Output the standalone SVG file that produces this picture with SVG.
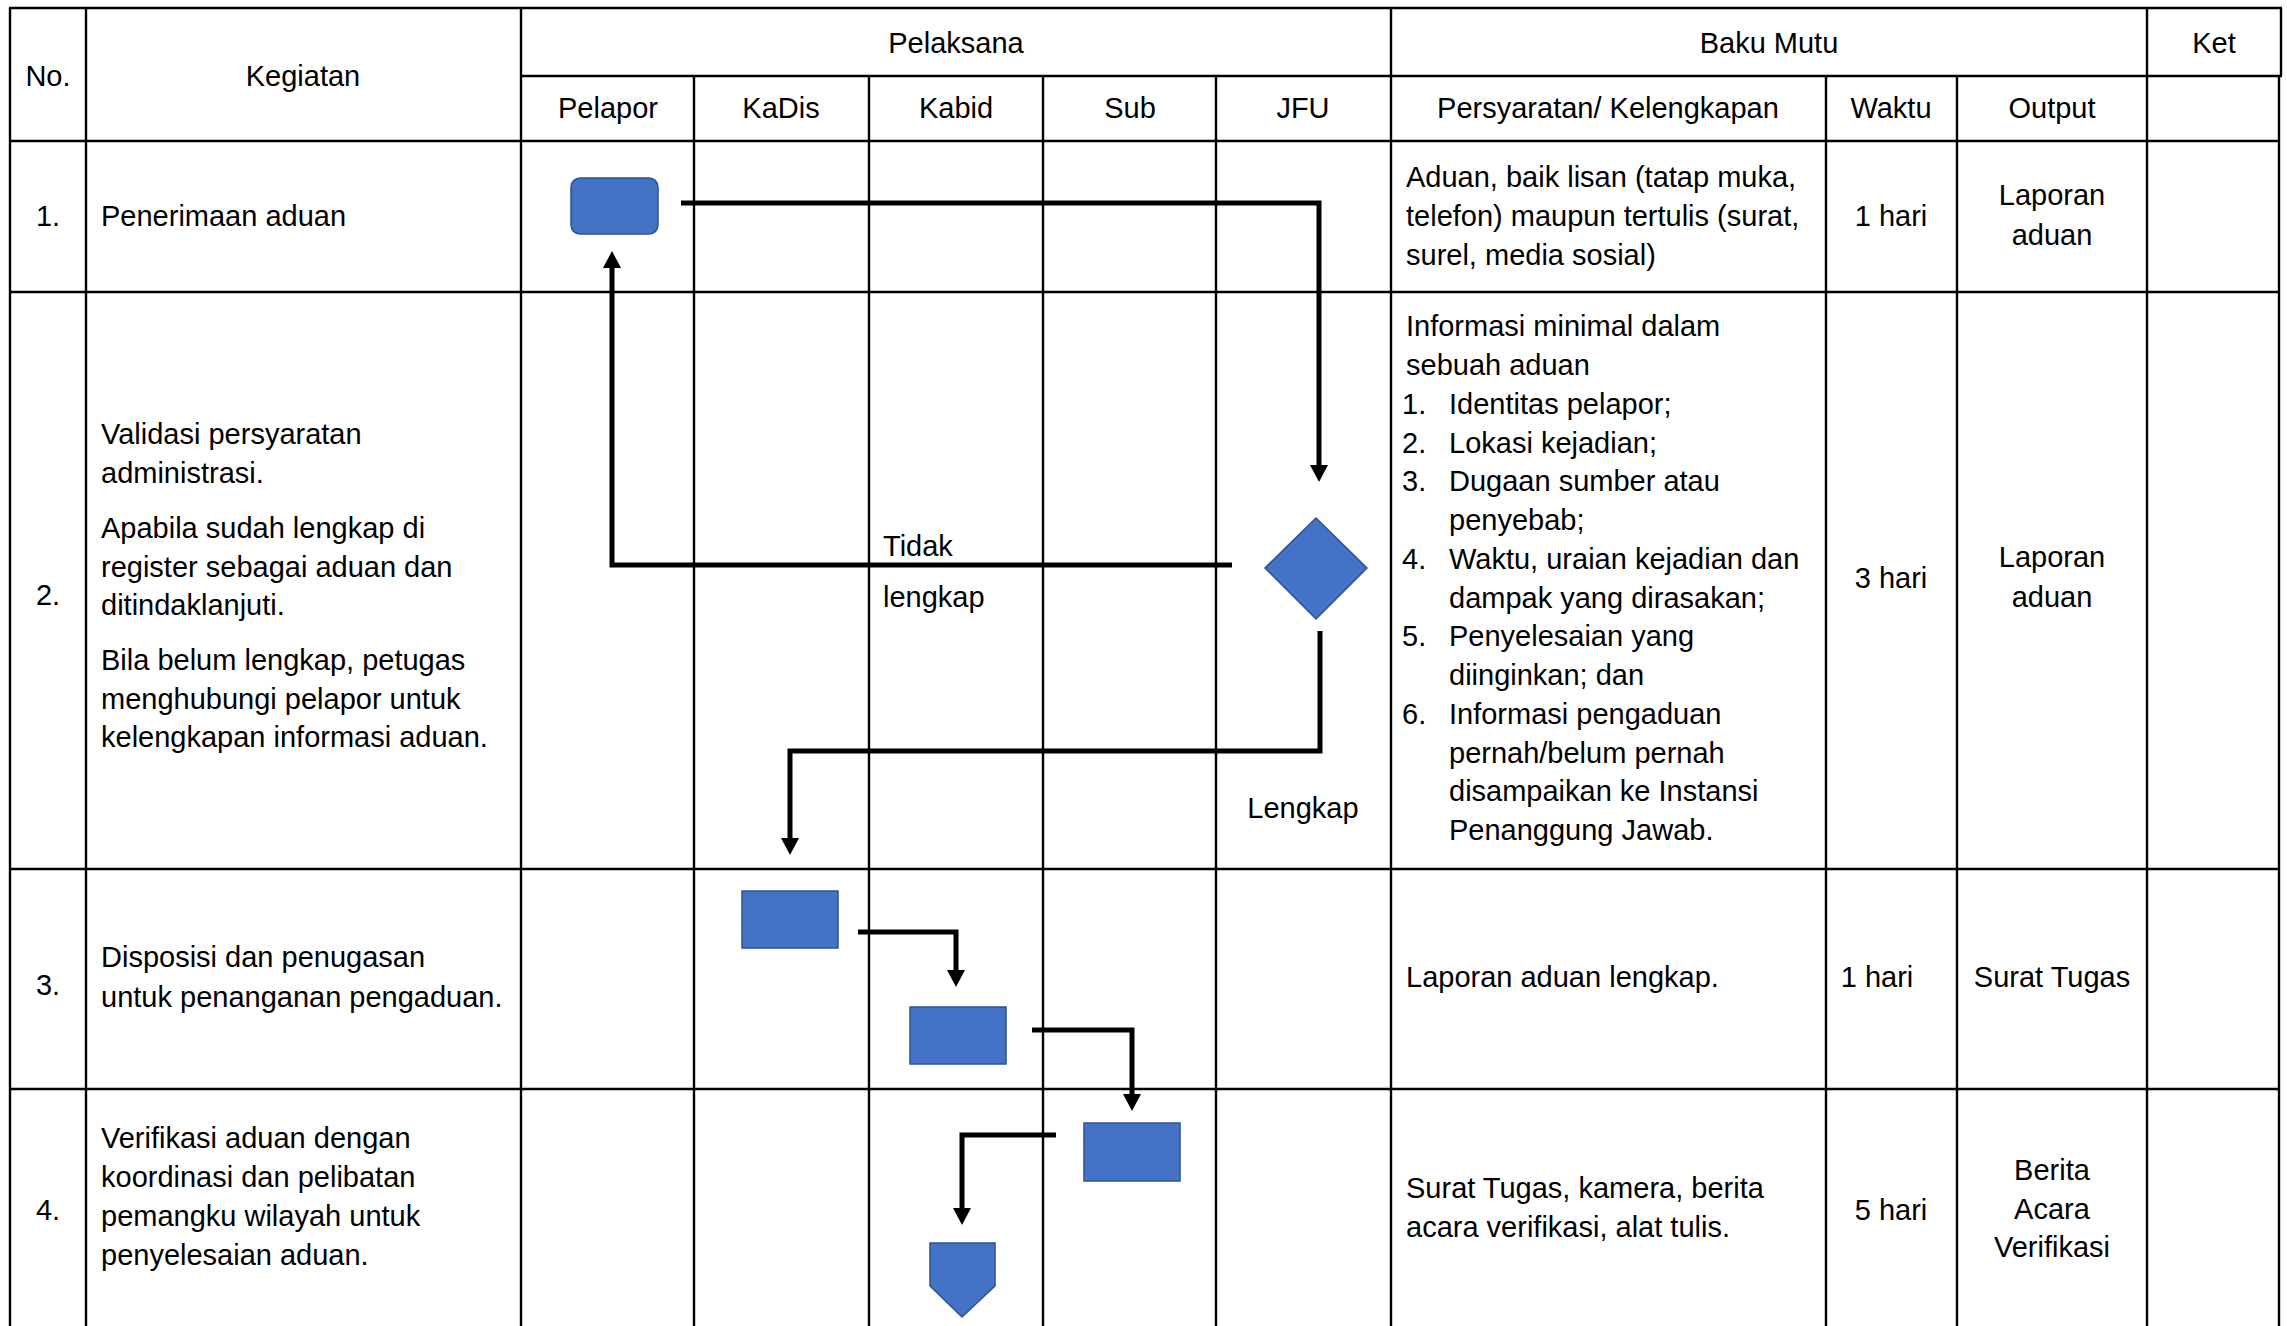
<svg xmlns="http://www.w3.org/2000/svg" width="2287" height="1326" viewBox="0 0 2287 1326">
<style>
.t{font-family:"Liberation Sans",Arial,sans-serif;font-size:29px;fill:#000}
.c{text-anchor:middle}
.grid line{stroke:#000;stroke-width:2.4}
.shape{fill:#4472C4;stroke:#2F528F;stroke-width:1.5}
.conn{fill:none;stroke:#000;stroke-width:5;marker-end:url(#arr)}
</style>
<defs>
<marker id="arr" viewBox="0 0 17 18" refX="0" refY="9" markerWidth="17" markerHeight="18" markerUnits="userSpaceOnUse" orient="auto">
<path d="M0,0 L17,9 L0,18 Z" fill="#000"/>
</marker>
</defs>
<rect width="2287" height="1326" fill="#fff"/>
<g id="table" class="grid">
<line x1="10" y1="8" x2="10" y2="1326"/>
<line x1="86" y1="8" x2="86" y2="1326"/>
<line x1="521" y1="8" x2="521" y2="1326"/>
<line x1="694" y1="76" x2="694" y2="1326"/>
<line x1="869" y1="76" x2="869" y2="1326"/>
<line x1="1043" y1="76" x2="1043" y2="1326"/>
<line x1="1216" y1="76" x2="1216" y2="1326"/>
<line x1="1391" y1="8" x2="1391" y2="1326"/>
<line x1="1826" y1="76" x2="1826" y2="1326"/>
<line x1="1957" y1="76" x2="1957" y2="1326"/>
<line x1="2147" y1="8" x2="2147" y2="1326"/>
<line x1="2281" y1="8" x2="2281" y2="76"/>
<line x1="2279" y1="76" x2="2279" y2="1326"/>
<line x1="9" y1="8" x2="2282" y2="8"/>
<line x1="521" y1="76" x2="2282" y2="76"/>
<line x1="9" y1="141" x2="2280" y2="141"/>
<line x1="9" y1="292" x2="2280" y2="292"/>
<line x1="9" y1="869" x2="2280" y2="869"/>
<line x1="9" y1="1089" x2="2280" y2="1089"/>
</g>
<g id="header">
<text class="t c" x="48" y="86">No.</text>
<text class="t c" x="303" y="86">Kegiatan</text>
<text class="t c" x="956" y="53">Pelaksana</text>
<text class="t c" x="1769" y="53">Baku Mutu</text>
<text class="t c" x="2214" y="53">Ket</text>
<text class="t c" x="608" y="118">Pelapor</text>
<text class="t c" x="781" y="118">KaDis</text>
<text class="t c" x="956" y="118">Kabid</text>
<text class="t c" x="1130" y="118">Sub</text>
<text class="t c" x="1303" y="118">JFU</text>
<text class="t c" x="1608" y="118">Persyaratan/ Kelengkapan</text>
<text class="t c" x="1891" y="118">Waktu</text>
<text class="t c" x="2052" y="118">Output</text>
</g>
<g id="row1">
<text class="t c" x="48" y="226">1.</text>
<text class="t" x="101" y="226">Penerimaan aduan</text>
<text class="t" x="1406" y="187">Aduan, baik lisan (tatap muka,</text>
<text class="t" x="1406" y="226">telefon) maupun tertulis (surat,</text>
<text class="t" x="1406" y="265">surel, media sosial)</text>
<text class="t c" x="1891" y="226">1 hari</text>
<text class="t c" x="2052" y="205">Laporan</text>
<text class="t c" x="2052" y="245">aduan</text>
</g>
<g id="row2">
<text class="t c" x="48" y="605">2.</text>
<text class="t" x="101" y="444">Validasi persyaratan</text>
<text class="t" x="101" y="483">administrasi.</text>
<text class="t" x="101" y="538">Apabila sudah lengkap di</text>
<text class="t" x="101" y="577">register sebagai aduan dan</text>
<text class="t" x="101" y="615">ditindaklanjuti.</text>
<text class="t" x="101" y="670">Bila belum lengkap, petugas</text>
<text class="t" x="101" y="709">menghubungi pelapor untuk</text>
<text class="t" x="101" y="747">kelengkapan informasi aduan.</text>
<text class="t" x="1406" y="336">Informasi minimal dalam</text>
<text class="t" x="1406" y="375">sebuah aduan</text>
<text class="t" x="1402" y="414">1.</text><text class="t" x="1449" y="414">Identitas pelapor;</text>
<text class="t" x="1402" y="453">2.</text><text class="t" x="1449" y="453">Lokasi kejadian;</text>
<text class="t" x="1402" y="491">3.</text><text class="t" x="1449" y="491">Dugaan sumber atau</text>
<text class="t" x="1449" y="530">penyebab;</text>
<text class="t" x="1402" y="569">4.</text><text class="t" x="1449" y="569">Waktu, uraian kejadian dan</text>
<text class="t" x="1449" y="608">dampak yang dirasakan;</text>
<text class="t" x="1402" y="646">5.</text><text class="t" x="1449" y="646">Penyelesaian yang</text>
<text class="t" x="1449" y="685">diinginkan; dan</text>
<text class="t" x="1402" y="724">6.</text><text class="t" x="1449" y="724">Informasi pengaduan</text>
<text class="t" x="1449" y="763">pernah/belum pernah</text>
<text class="t" x="1449" y="801">disampaikan ke Instansi</text>
<text class="t" x="1449" y="840">Penanggung Jawab.</text>
<text class="t c" x="1891" y="588">3 hari</text>
<text class="t c" x="2052" y="567">Laporan</text>
<text class="t c" x="2052" y="607">aduan</text>
</g>
<g id="row3">
<text class="t c" x="48" y="995">3.</text>
<text class="t" x="101" y="967">Disposisi dan penugasan</text>
<text class="t" x="101" y="1007">untuk penanganan pengaduan.</text>
<text class="t" x="1406" y="987">Laporan aduan lengkap.</text>
<text class="t c" x="1877" y="987">1 hari</text>
<text class="t c" x="2052" y="987">Surat Tugas</text>
</g>
<g id="row4">
<text class="t c" x="48" y="1220">4.</text>
<text class="t" x="101" y="1148">Verifikasi aduan dengan</text>
<text class="t" x="101" y="1187">koordinasi dan pelibatan</text>
<text class="t" x="101" y="1226">pemangku wilayah untuk</text>
<text class="t" x="101" y="1265">penyelesaian aduan.</text>
<text class="t" x="1406" y="1198">Surat Tugas, kamera, berita</text>
<text class="t" x="1406" y="1237">acara verifikasi, alat tulis.</text>
<text class="t c" x="1891" y="1220">5 hari</text>
<text class="t c" x="2052" y="1180">Berita</text>
<text class="t c" x="2052" y="1219">Acara</text>
<text class="t c" x="2052" y="1257">Verifikasi</text>
</g>
<g id="n1-pelapor"><rect class="shape" x="571" y="178" width="87" height="56" rx="9"/></g>
<g id="n2-decision"><polygon class="shape" points="1316,518 1367,568 1316,619 1265,568"/></g>
<g id="n3-kadis"><rect class="shape" x="742" y="891" width="96" height="57"/></g>
<g id="n4-kabid"><rect class="shape" x="910" y="1007" width="96" height="57"/></g>
<g id="n5-sub"><rect class="shape" x="1084" y="1123" width="96" height="58"/></g>
<g id="n6-offpage"><polygon class="shape" points="930,1243 995,1243 995,1286 962,1317 930,1286"/></g>
<g id="connectors">
<path class="conn" d="M681,203 H1319 V465"/>
<path class="conn" d="M1232,565 H612 V268"/>
<path class="conn" d="M1320,631 V751 H790 V838"/>
<path class="conn" d="M858,932 H956 V970"/>
<path class="conn" d="M1032,1030 H1132 V1094"/>
<path class="conn" d="M1056,1135 H962 V1208"/>
</g>
<g id="connector-labels">
<text class="t" x="883" y="556">Tidak</text>
<text class="t" x="883" y="607">lengkap</text>
<text class="t c" x="1303" y="818">Lengkap</text>
</g>
</svg>
